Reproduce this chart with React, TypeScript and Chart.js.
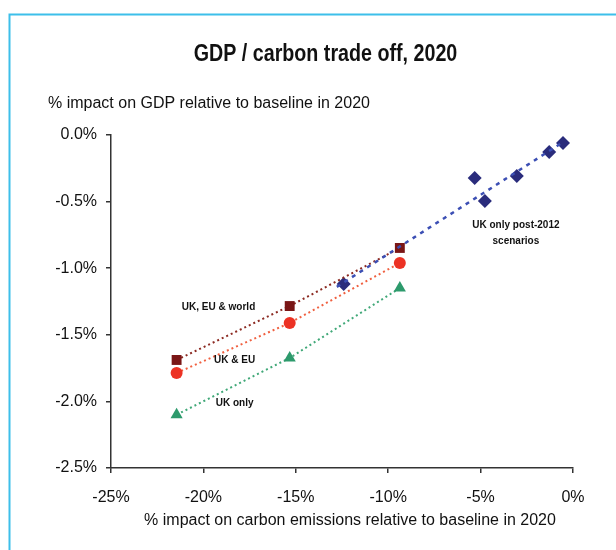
import React, { useEffect, useRef } from "react";
import { Chart, registerables } from "chart.js";

Chart.register(...registerables);

const chartTitle = "GDP / carbon trade off, 2020";
const yAxisTitle = "% impact on GDP relative to baseline in 2020";
const xAxisTitle = "% impact on carbon emissions relative to baseline in 2020";

// UK only post-2012 scenarios (diamonds)
const postX = [-12.41, -5.32, -4.77, -3.04, -1.29, -0.54];
const postY = [-1.119, -0.323, -0.495, -0.308, -0.128, -0.06];
// trend line for post-2012 scenarios
const trendX = [-12.78, -0.5];
const trendY = [-1.14, -0.05];

// UK, EU & world (squares)
const worldX = [-21.45, -15.33, -9.37];
const worldY = [-1.689, -1.284, -0.848];
// UK & EU (circles)
const euX = [-21.45, -15.33, -9.37];
const euY = [-1.787, -1.411, -0.961];
// UK only (triangles)
const ukX = [-21.45, -15.33, -9.37];
const ukY = [-2.1, -1.674, -1.149];

// annotation labels
const noteTexts = ["UK, EU & world", "UK & EU", "UK only", "UK only post-2012", "scenarios"];
const noteX = [-19.18, -18.31, -18.31, -3.09, -3.09];
const noteY = [-1.29, -1.689, -2.012, -0.676, -0.796];

const FONT = '"Liberation Sans", Arial, sans-serif';

const pts = (xs: number[], ys: number[]) => xs.map((x, i) => ({ x, y: ys[i] }));

function squeezedText(ctx: any, text: string, x: number, y: number, sx: number) {
  ctx.save();
  ctx.translate(x, y);
  ctx.scale(sx, 1);
  ctx.fillText(text, 0, 0);
  ctx.restore();
}

const textPlugin = {
  id: "customTexts",
  afterDraw(chart: any) {
    const ctx = chart.ctx;
    ctx.save();
    ctx.strokeStyle = "#3dbfea";
    ctx.lineWidth = 2;
    ctx.beginPath();
    ctx.moveTo(9.5, 552);
    ctx.lineTo(9.5, 14.5);
    ctx.lineTo(620, 14.5);
    ctx.stroke();

    ctx.fillStyle = "#111";
    ctx.textBaseline = "middle";
    ctx.textAlign = "center";
    ctx.font = `bold 24px ${FONT}`;
    squeezedText(ctx, chartTitle, 325.5, 54, 0.82);

    ctx.font = `16px ${FONT}`;
    ctx.textAlign = "left";
    ctx.fillText(yAxisTitle, 48, 104);
    ctx.textAlign = "center";
    ctx.fillText(xAxisTitle, 350, 521);

    const xs = chart.scales.x;
    const ys = chart.scales.y;
    ctx.font = `bold 11px ${FONT}`;
    noteTexts.forEach((t, i) => {
      squeezedText(ctx, t, xs.getPixelForValue(noteX[i]), ys.getPixelForValue(noteY[i]), 0.91);
    });
    ctx.restore();
  },
};

export default function App() {
  const ref = useRef<HTMLCanvasElement | null>(null);
  useEffect(() => {
    if (!ref.current) return;
    const chart = new Chart(ref.current, {
      type: "scatter",
      data: {
        datasets: [
          {
            label: "trend",
            data: pts(trendX, trendY),
            showLine: true,
            borderColor: "#3c4fb4",
            borderWidth: 2.5,
            borderDash: [4, 5],
            pointRadius: 0,
          },
          {
            label: "UK, EU & world",
            data: pts(worldX, worldY),
            showLine: true,
            borderColor: "#8c2a22",
            borderWidth: 2,
            borderDash: [2, 3],
            pointStyle: "rect",
            pointRadius: 7,
            pointBackgroundColor: "#7a1616",
            pointBorderColor: "#7a1616",
            pointBorderWidth: 0,
          },
          {
            label: "UK & EU",
            data: pts(euX, euY),
            showLine: true,
            borderColor: "#f06040",
            borderWidth: 2,
            borderDash: [2, 3],
            pointStyle: "circle",
            pointRadius: 6,
            pointBackgroundColor: "#ec3224",
            pointBorderColor: "#ec3224",
            pointBorderWidth: 0,
          },
          {
            label: "UK only",
            data: pts(ukX, ukY),
            showLine: true,
            borderColor: "#40a878",
            borderWidth: 2,
            borderDash: [2, 3],
            pointStyle: "triangle",
            pointRadius: 7,
            pointBackgroundColor: "#2d9a6c",
            pointBorderColor: "#2d9a6c",
            pointBorderWidth: 0,
          },
          {
            label: "UK only post-2012 scenarios",
            data: pts(postX, postY),
            showLine: false,
            pointStyle: "rectRot",
            pointRadius: 7,
            pointBackgroundColor: "#2a2c7c",
            pointBorderColor: "#2a2c7c",
            pointBorderWidth: 0,
          },
        ],
      },
      options: {
        responsive: false,
        animation: false,
        devicePixelRatio: 1,
        layout: { padding: { top: 135, right: 43, bottom: 0, left: 0 } },
        plugins: {
          legend: { display: false },
          title: { display: false },
          tooltip: { enabled: false },
        },
        scales: {
          x: {
            type: "linear",
            min: -25,
            max: 0,
            afterFit: (s: any) => {
              s.height = 82;
            },
            ticks: {
              stepSize: 5,
              padding: 15,
              color: "#111",
              font: { family: FONT, size: 16 },
              callback: (v: any) => `${v}%`,
            },
            grid: { drawOnChartArea: false, drawTicks: true, tickLength: 5, color: "#333", lineWidth: 1.5 },
            border: { display: true, color: "#333", width: 1.5 },
          },
          y: {
            type: "linear",
            min: -2.5,
            max: 0,
            afterFit: (s: any) => {
              s.width = 111;
            },
            ticks: {
              stepSize: 0.5,
              padding: 9,
              color: "#111",
              font: { family: FONT, size: 16 },
              callback: (v: any) => `${Number(v).toFixed(1)}%`,
            },
            grid: { drawOnChartArea: false, drawTicks: true, tickLength: 5, color: "#333", lineWidth: 1.5 },
            border: { display: true, color: "#333", width: 1.5 },
          },
        },
      },
      plugins: [textPlugin],
    } as any);
    return () => chart.destroy();
  }, []);
  return (
    <canvas
      ref={ref}
      width={616}
      height={550}
      style={{ position: "fixed", left: 0, top: 0, width: 616, height: 550 }}
    />
  );
}
